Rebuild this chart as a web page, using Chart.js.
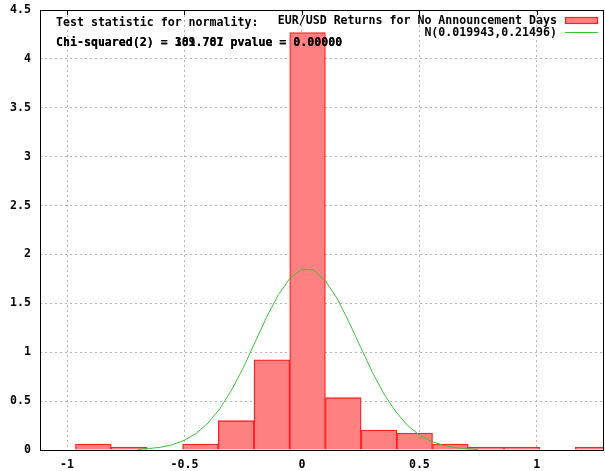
<!DOCTYPE html>
<html>
<head>
<meta charset="utf-8">
<script src="https://cdn.jsdelivr.net/npm/chart.js@4/dist/chart.umd.min.js"></script>
<style>
  html, body { margin: 0; padding: 0; background: #fff; }
  #wrap { width: 605px; height: 471px; }
</style>
</head>
<body>
<div id="wrap"><canvas id="histChart" width="605" height="471"></canvas></div>
<script>
// bin centres and densities
const binCenters = [-0.888, -0.736, -0.584, -0.432, -0.280, -0.128, 0.024, 0.176, 0.328, 0.480, 0.632, 0.784, 0.936, 1.088, 1.240];
const density = [0.061, 0.031, 0, 0.061, 0.30, 0.923, 4.27, 0.535, 0.204, 0.174, 0.061, 0.031, 0.031, 0, 0.031];

// the fitted normal curve
const curveX = [-0.70, -0.65, -0.60, -0.55, -0.50, -0.45, -0.40, -0.35, -0.30, -0.25, -0.20, -0.15, -0.10, -0.05, 0.00,
                0.05, 0.10, 0.15, 0.20, 0.25, 0.30, 0.35, 0.40, 0.45, 0.50, 0.55, 0.60, 0.65, 0.70, 0.75];
const curveY = [0.007, 0.015, 0.029, 0.055, 0.10, 0.17, 0.275, 0.42, 0.61, 0.84, 1.10, 1.36, 1.59, 1.76, 1.85,
                1.84, 1.73, 1.55, 1.31, 1.05, 0.795, 0.57, 0.39, 0.25, 0.153, 0.089, 0.049, 0.025, 0.0125, 0.006];

const xTicks = [-1, -0.5, 0, 0.5, 1];
const yTicks = [0, 0.5, 1, 1.5, 2, 2.5, 3, 3.5, 4, 4.5];

const seriesLabel = "EUR/USD Returns for No Announcement Days";
const curveLabel = "N(0.019943,0.21496)";
const noteLines = ["Test statistic for normality:", "Chi-squared(2) = 189.787 pvalue = 0.00000", "Chi-squared(2) = 301.701 pvalue = 0.00000"];

const FONT = 'bold 11.6px "DejaVu Sans Mono"';
const barFill = '#ff8080';
const barLine = '#ff2020';
const curveColor = '#38c238';

const barData = binCenters.map((c, i) => ({ x: c, y: density[i] > 0 ? density[i] : null }));
const lineData = curveX.map((x, i) => ({ x: x, y: curveY[i] }));

// text, legend and frame drawn on top like gnuplot does
const overlay = {
    id: 'overlay',
    afterDatasetsDraw(chart) {
        const ctx = chart.ctx;
        const a = chart.chartArea;
        ctx.save();
        ctx.font = FONT;
        ctx.fillStyle = '#000';
        ctx.textBaseline = 'alphabetic';
        ctx.textAlign = 'left';
        ctx.fillText(noteLines[0], 56, 25.5);
        ctx.fillText(noteLines[1], 56, 45.5);
        ctx.fillText(noteLines[2], 56, 45.5);

        ctx.textAlign = 'right';
        ctx.fillText(seriesLabel, 557, 24);
        ctx.fillText(curveLabel, 557, 36);

        ctx.fillStyle = barFill;
        ctx.fillRect(565, 17, 32, 6);
        ctx.strokeStyle = barLine;
        ctx.lineWidth = 1.2;
        ctx.strokeRect(565.5, 17.5, 32, 6);

        ctx.strokeStyle = curveColor;
        ctx.lineWidth = 1;
        ctx.beginPath();
        ctx.moveTo(565, 32.5);
        ctx.lineTo(598, 32.5);
        ctx.stroke();

        // frame and mirrored ticks on the top edge
        ctx.strokeStyle = '#000';
        ctx.lineWidth = 1;
        ctx.strokeRect(a.left + 0.5, a.top + 0.5, a.right - a.left - 1, a.bottom - a.top);
        const xs = chart.scales.x;
        ctx.beginPath();
        for (const t of xTicks) {
            const px = Math.round(xs.getPixelForValue(t)) + 0.5;
            ctx.moveTo(px, a.top);
            ctx.lineTo(px, a.top + 5);
        }
        ctx.stroke();
        ctx.restore();
    }
};

const ctx = document.getElementById('histChart').getContext('2d');
const chart = new Chart(ctx, {
    type: 'bar',
    data: {
        datasets: [
            {
                type: 'line',
                label: curveLabel,
                data: lineData,
                borderColor: curveColor,
                borderWidth: 1,
                pointRadius: 0,
                fill: false,
                tension: 0,
                order: 0
            },
            {
                type: 'bar',
                label: seriesLabel,
                data: barData,
                backgroundColor: barFill,
                borderColor: barLine,
                borderWidth: 1.3,
                borderSkipped: 'start',
                barPercentage: 1,
                categoryPercentage: 1,
                order: 1
            }
        ]
    },
    options: {
        responsive: false,
        animation: false,
        devicePixelRatio: 1,
        layout: { padding: { top: 10, right: 1, left: 0, bottom: 0 } },
        plugins: {
            legend: { display: false },
            title: { display: false },
            tooltip: { enabled: false }
        },
        scales: {
            x: {
                type: 'linear',
                min: -1.115,
                max: 1.286,
                offset: false,
                afterFit: s => { s.height = 21; s.paddingLeft = 0; s.paddingRight = 0; },
                afterBuildTicks: s => { s.ticks = xTicks.map(v => ({ value: v })); },
                ticks: {
                    font: { family: 'DejaVu Sans Mono', size: 11.6, weight: 'bold' },
                    color: '#000',
                    padding: 8,
                    maxRotation: 0,
                    callback: v => String(v)
                },
                grid: { color: '#b4b4b4', drawTicks: false, offset: false },
                border: { display: false, dash: [2, 3] }
            },
            y: {
                min: 0,
                max: 4.5,
                afterFit: s => { s.width = 40; s.paddingTop = 0; s.paddingBottom = 0; },
                afterBuildTicks: s => { s.ticks = yTicks.map(v => ({ value: v })); },
                ticks: {
                    font: { family: 'DejaVu Sans Mono', size: 11.6, weight: 'bold' },
                    color: '#000',
                    padding: 9,
                    callback: v => String(v)
                },
                grid: { color: '#b4b4b4', drawTicks: false },
                border: { display: false, dash: [2, 3] }
            }
        }
    },
    plugins: [overlay]
});
</script>
</body>
</html>
